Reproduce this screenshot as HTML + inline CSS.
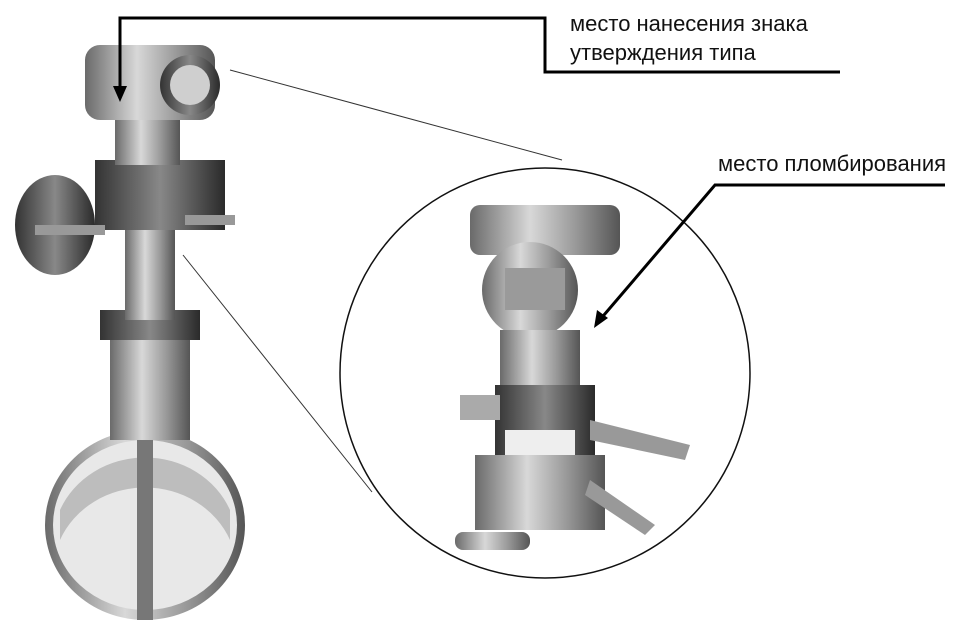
<!DOCTYPE html>
<html><head><meta charset="utf-8"><style>
html,body{margin:0;padding:0;background:#fff;}
body{width:978px;height:638px;position:relative;overflow:hidden;font-family:"Liberation Sans",sans-serif;}
.t{position:absolute;font-size:22px;color:#111;white-space:nowrap;line-height:26px;}
</style></head><body>
<svg width="978" height="638" style="position:absolute;left:0;top:0">
<defs>
<linearGradient id="m" x1="0" x2="1"><stop offset="0" stop-color="#6a6a6a"/><stop offset=".4" stop-color="#d8d8d8"/><stop offset=".7" stop-color="#9a9a9a"/><stop offset="1" stop-color="#555"/></linearGradient>
<linearGradient id="d" x1="0" x2="1"><stop offset="0" stop-color="#333"/><stop offset=".5" stop-color="#888"/><stop offset="1" stop-color="#2a2a2a"/></linearGradient>
</defs>
<ellipse cx="145" cy="525" rx="100" ry="95" fill="url(#m)"/>
<ellipse cx="145" cy="525" rx="92" ry="85" fill="#e8e8e8"/>
<path d="M60 510 A92 85 0 0 1 230 510 L230 540 A92 85 0 0 0 60 540Z" fill="#bdbdbd"/>
<rect x="137" y="440" width="16" height="180" fill="#777"/>
<rect x="110" y="330" width="80" height="110" fill="url(#m)"/>
<rect x="100" y="310" width="100" height="30" fill="url(#d)"/>
<rect x="125" y="230" width="50" height="90" fill="url(#m)"/>
<rect x="95" y="160" width="130" height="70" fill="url(#d)"/>
<ellipse cx="55" cy="225" rx="40" ry="50" fill="url(#d)"/>
<rect x="35" y="225" width="70" height="10" fill="#999"/>
<rect x="185" y="215" width="50" height="10" fill="#999"/>
<rect x="115" y="110" width="65" height="55" fill="url(#m)"/>
<rect x="85" y="45" width="130" height="75" rx="15" fill="url(#m)"/>
<circle cx="190" cy="85" r="30" fill="url(#d)"/>
<circle cx="190" cy="85" r="20" fill="#cfcfcf"/>
<line x1="230" y1="70" x2="562" y2="160" stroke="#333" stroke-width="1"/>
<line x1="183" y1="255" x2="372" y2="492" stroke="#333" stroke-width="1"/>
<circle cx="545" cy="373" r="205" fill="none" stroke="#111" stroke-width="1.5"/>
<rect x="470" y="205" width="150" height="50" rx="10" fill="url(#m)"/>
<circle cx="530" cy="290" r="48" fill="url(#m)"/>
<rect x="505" y="268" width="60" height="42" fill="#9a9a9a"/>
<rect x="500" y="330" width="80" height="60" fill="url(#m)"/>
<rect x="495" y="385" width="100" height="70" fill="url(#d)"/>
<rect x="505" y="430" width="70" height="30" fill="#eee"/>
<rect x="475" y="455" width="130" height="75" fill="url(#m)"/>
<rect x="460" y="395" width="40" height="25" fill="#aaa"/>
<path d="M590 420 L690 445 L685 460 L590 440Z" fill="#999"/>
<path d="M590 480 L655 525 L645 535 L585 495Z" fill="#999"/>
<rect x="455" y="532" width="75" height="18" rx="8" fill="url(#m)"/>
<polyline points="120,95 120,18 545,18 545,72 840,72" fill="none" stroke="#000" stroke-width="3"/>
<polygon points="120,102 113,86 127,86" fill="#000"/>
<polyline points="945,185 715,185 598,322" fill="none" stroke="#000" stroke-width="3"/>
<polygon points="594,328 597,310 608,318" fill="#000"/>
</svg>
<div class="t" style="left:570px;top:11px">место нанесения знака</div>
<div class="t" style="left:570px;top:40px">утверждения типа</div>
<div class="t" style="left:718px;top:151px">место пломбирования</div>
</body></html>
